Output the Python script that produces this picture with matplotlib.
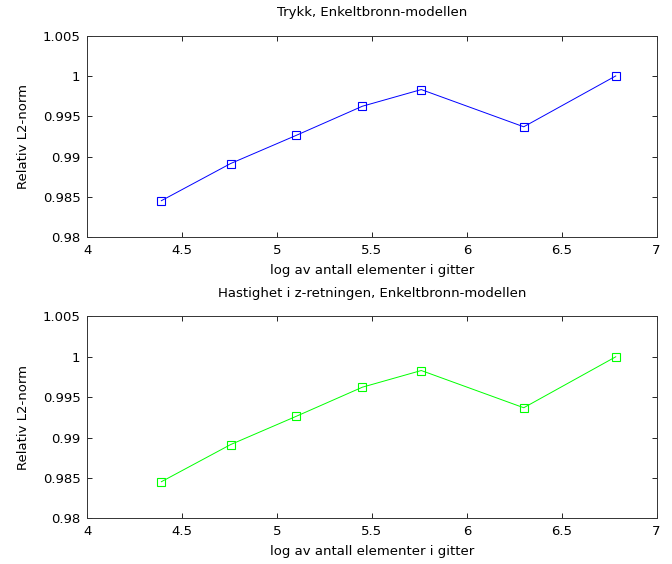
import matplotlib
matplotlib.use("Agg")
import matplotlib.pyplot as plt
from matplotlib.ticker import FuncFormatter

# log10 of number of grid elements
log_elements = [4.39, 4.755, 5.10, 5.45, 5.76, 6.30, 6.785]
# relative L2 norms
trykk = [0.98455, 0.98915, 0.99263, 0.99625, 0.99831, 0.99370, 1.0000]
hastighet_z = [0.98453, 0.98913, 0.99262, 0.99624, 0.99830, 0.99369, 1.0000]

titles = ["Trykk, Enkeltbronn-modellen",
          "Hastighet i z-retningen, Enkeltbronn-modellen"]
xlabel = "log av antall elementer i gitter"
ylabel = "Relativ L2-norm"
xticks = [4, 4.5, 5, 5.5, 6, 6.5, 7]
yticks = [0.98, 0.985, 0.99, 0.995, 1.0, 1.005]

plt.rcParams["font.family"] = ["DejaVu Sans"]
plt.rcParams["font.size"] = 9.5

fig = plt.figure(figsize=(6.72, 5.64), dpi=100)
ax1 = fig.add_axes([0.130, 0.579, 0.847, 0.358])
ax2 = fig.add_axes([0.130, 0.081, 0.847, 0.358])

for ax, vals, col, title in [(ax1, trykk, "#0000ff", titles[0]),
                             (ax2, hastighet_z, "#00ff00", titles[1])]:
    ax.plot(log_elements, vals, "-s", color=col, linewidth=0.7,
            markersize=6, markerfacecolor="none", markeredgewidth=0.8)
    ax.set_xlim(4, 7)
    ax.set_ylim(0.98, 1.005)
    ax.set_xticks(xticks)
    ax.set_yticks(yticks)
    ax.xaxis.set_major_formatter(FuncFormatter(lambda v, p: f"{v:g}"))
    ax.yaxis.set_major_formatter(FuncFormatter(lambda v, p: f"{round(v, 4):g}"))
    ax.tick_params(direction="in", top=True, right=True, length=3.6, width=0.6,
                   labelsize=9.5)
    ax.tick_params(axis="x", pad=5)
    ax.tick_params(axis="y", pad=5)
    for s in ax.spines.values():
        s.set_linewidth(0.7)
        s.set_color("#333333")
    ax.set_title(title, fontsize=9.5, pad=14)
    ax.set_xlabel(xlabel, fontsize=9.5, labelpad=5)
    ax.set_ylabel(ylabel, fontsize=9.5, labelpad=9)

fig.savefig("out.png", dpi=100)
